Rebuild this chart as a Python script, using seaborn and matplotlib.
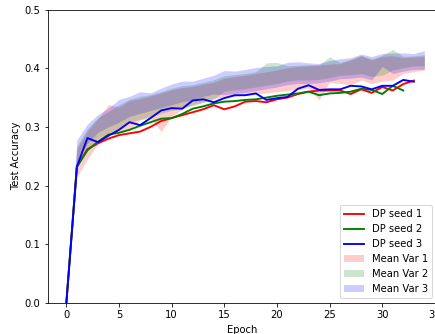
import numpy as np
import matplotlib
matplotlib.use("Agg")
import matplotlib.pyplot as plt
import seaborn as sns

# ---- data ----
seed1 = [0.0, 0.232, 0.262, 0.272, 0.280, 0.286, 0.289, 0.292, 0.300, 0.310, 0.315, 0.320,
         0.325, 0.330, 0.337, 0.330, 0.335, 0.343, 0.344, 0.342, 0.347, 0.350, 0.356, 0.360,
         0.362, 0.362, 0.362, 0.356, 0.364, 0.358, 0.368, 0.362, 0.373, 0.379]
seed2 = [0.0, 0.232, 0.260, 0.275, 0.287, 0.290, 0.295, 0.302, 0.308, 0.314, 0.315, 0.322,
         0.331, 0.335, 0.340, 0.343, 0.344, 0.346, 0.347, 0.350, 0.353, 0.355, 0.357, 0.360,
         0.354, 0.357, 0.358, 0.360, 0.365, 0.363, 0.356, 0.370, 0.362]
seed3 = [0.0, 0.232, 0.281, 0.274, 0.285, 0.295, 0.308, 0.303, 0.315, 0.328, 0.332, 0.331,
         0.345, 0.347, 0.342, 0.349, 0.354, 0.354, 0.357, 0.346, 0.349, 0.351, 0.365, 0.371,
         0.363, 0.364, 0.364, 0.370, 0.369, 0.364, 0.370, 0.370, 0.380, 0.377]

var1_lo = [0.0, 0.215, 0.245, 0.272, 0.290, 0.292, 0.296, 0.312, 0.315, 0.292, 0.318, 0.330,
           0.338, 0.342, 0.349, 0.350, 0.352, 0.354, 0.356, 0.358, 0.360, 0.362, 0.364, 0.366,
           0.346, 0.376, 0.374, 0.371, 0.380, 0.374, 0.378, 0.380, 0.391, 0.394, 0.397]
var1_hi = [0.0, 0.262, 0.293, 0.314, 0.338, 0.334, 0.345, 0.348, 0.353, 0.358, 0.363, 0.367,
           0.369, 0.373, 0.376, 0.383, 0.386, 0.388, 0.391, 0.394, 0.397, 0.401, 0.403, 0.404,
           0.405, 0.407, 0.408, 0.414, 0.421, 0.414, 0.420, 0.421, 0.418, 0.419, 0.420]
var2_lo = [0.0, 0.232, 0.262, 0.281, 0.290, 0.298, 0.308, 0.313, 0.318, 0.323, 0.328, 0.333,
           0.336, 0.342, 0.347, 0.361, 0.363, 0.365, 0.368, 0.371, 0.374, 0.378, 0.380, 0.380,
           0.381, 0.384, 0.388, 0.389, 0.391, 0.386, 0.388, 0.397, 0.401, 0.404, 0.404]
var2_hi = [0.0, 0.267, 0.297, 0.316, 0.326, 0.338, 0.347, 0.352, 0.355, 0.360, 0.366, 0.370,
           0.372, 0.376, 0.380, 0.387, 0.389, 0.391, 0.394, 0.409, 0.410, 0.404, 0.405, 0.406,
           0.406, 0.419, 0.410, 0.415, 0.422, 0.416, 0.422, 0.432, 0.420, 0.421, 0.423]
var3_lo = [0.0, 0.240, 0.272, 0.291, 0.300, 0.308, 0.318, 0.323, 0.328, 0.333, 0.338, 0.343,
           0.346, 0.352, 0.356, 0.355, 0.357, 0.359, 0.362, 0.365, 0.368, 0.372, 0.374, 0.374,
           0.375, 0.378, 0.382, 0.383, 0.385, 0.380, 0.403, 0.391, 0.395, 0.398, 0.398]
var3_hi = [0.0, 0.278, 0.305, 0.321, 0.332, 0.347, 0.352, 0.360, 0.358, 0.366, 0.373, 0.378,
           0.378, 0.383, 0.388, 0.396, 0.395, 0.398, 0.401, 0.403, 0.404, 0.410, 0.411, 0.409,
           0.408, 0.413, 0.416, 0.418, 0.424, 0.420, 0.425, 0.426, 0.426, 0.425, 0.430]

line_labels = ["DP seed 1", "DP seed 2", "DP seed 3"]
band_labels = ["Mean Var 1", "Mean Var 2", "Mean Var 3"]
colors = ["r", "g", "b"]
xticks = [0, 5, 10, 15, 20, 25, 30, 35]
yticks = [0.0, 0.1, 0.2, 0.3, 0.4, 0.5]

# ---- figure ----
DPI = 72
fig = plt.figure(figsize=(435 / DPI, 334 / DPI), dpi=DPI)
ax = fig.add_axes([47.5 / 435, 31 / 334, 389.5 / 435, 293.5 / 334])

for ys, lab, c in zip([seed1, seed2, seed3], line_labels, colors):
    sns.lineplot(x=np.arange(len(ys)), y=ys, color=c, label=lab, linewidth=1.9, ax=ax)

for lo, hi, lab, c in zip([var1_lo, var2_lo, var3_lo], [var1_hi, var2_hi, var3_hi],
                          band_labels, colors):
    ax.fill_between(np.arange(len(lo)), lo, hi, color=c, alpha=0.2, linewidth=0, label=lab)

ax.set_xlim(-1.79, 35.2)
ax.set_ylim(0, 0.5)
ax.set_xticks(xticks)
ax.set_yticks(yticks)
ax.set_xlabel("Epoch", fontsize=10, labelpad=5)
ax.set_ylabel("Test Accuracy", fontsize=10)
ax.tick_params(labelsize=10)
ax.legend(loc="lower right", fontsize=10)

fig.savefig("out.png", dpi=DPI)
